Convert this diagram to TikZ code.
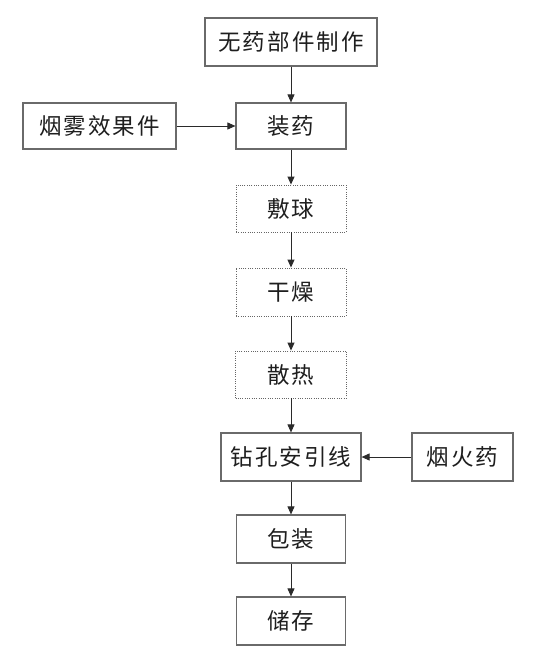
\documentclass[tikz,border=0pt]{standalone}
\usepackage{fontspec}
\newfontfamily\cjk[LetterSpace=9]{Noto Sans CJK SC}
\usetikzlibrary{arrows.meta}
\definecolor{boxline}{HTML}{6A6A6A}
\definecolor{txt}{HTML}{1E1E1E}
\definecolor{arr}{HTML}{2A2A2A}
\tikzset{
  box/.style={draw=boxline, line width=1.2pt, fill=white, inner sep=0pt, text=txt,
    font=\cjk\fontsize{22.5}{22.5}\selectfont},
  dotbox/.style={box, draw=black!60, line width=0.9pt, dash pattern=on 1pt off 1.3pt},
  flow/.style={draw=arr, line width=0.9pt, -{Triangle[length=8pt,width=7pt]}}
}
\begin{document}
\begin{tikzpicture}[x=1pt,y=-1pt]
\useasboundingbox (0,0) rectangle (534,664);
\fill[white] (0,0) rectangle (534,664);
\node[box, minimum width=172pt, minimum height=48pt] (a) at (291,42) {无药部件制作};
\node[box, minimum width=110pt, minimum height=46pt] (b) at (291,126) {装药};
\node[box, minimum width=153pt, minimum height=46pt] (s) at (99.5,126) {烟雾效果件};
\node[dotbox, minimum width=110pt, minimum height=47pt] (c) at (291,208.5) {敷球};
\node[dotbox, minimum width=110pt, minimum height=48pt] (d) at (291,292) {干燥};
\node[dotbox, minimum width=111pt, minimum height=47pt] (e) at (291,374.5) {散热};
\node[box, minimum width=140pt, minimum height=48pt] (f) at (291,457) {钻孔安引线};
\node[box, minimum width=101pt, minimum height=48pt] (g) at (462.5,457) {烟火药};
\node[box, minimum width=109pt, minimum height=48pt] (h) at (291,539) {包装};
\node[box, minimum width=109pt, minimum height=48pt] (i) at (291,621) {储存};
\draw[flow] (a) -- (b);
\draw[flow] (s) -- (b);
\draw[flow] (b) -- (c);
\draw[flow] (c) -- (d);
\draw[flow] (d) -- (e);
\draw[flow] (e) -- (f);
\draw[flow] (g) -- (f);
\draw[flow] (f) -- (h);
\draw[flow] (h) -- (i);
\end{tikzpicture}
\end{document}
